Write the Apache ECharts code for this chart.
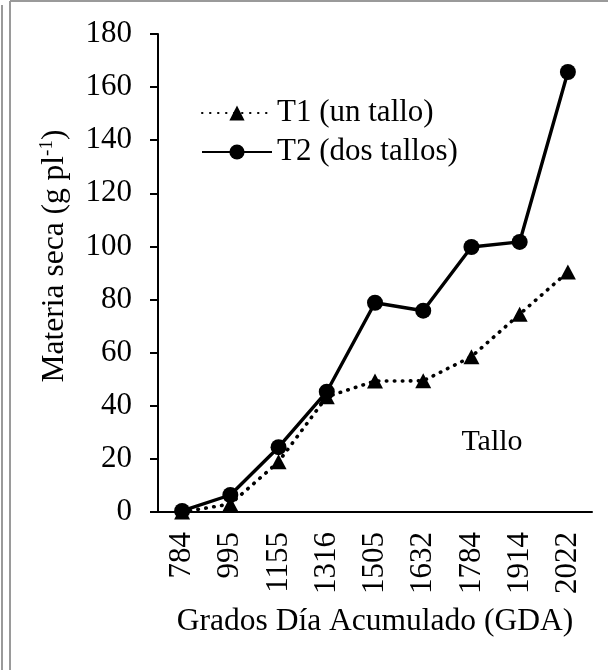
<!DOCTYPE html>
<html>
<head>
<meta charset="utf-8">
<style>
  html, body { margin: 0; padding: 0; background: #fff; }
  #main { width: 608px; height: 670px; }
</style>
</head>
<body>
<div id="main"></div>
<script src="https://cdn.jsdelivr.net/npm/echarts@6/dist/echarts.min.js"></script>
<script>
// grados dia acumulados (eje x)
var categories = ['784', '995', '1155', '1316', '1505', '1632', '1784', '1914', '2022']
// materia seca del tallo, g por planta
var t1Values = [0, 3, 18.9, 43.4, 49.3, 49.4, 58.5, 74.5, 90.4]
var t2Values = [0.4, 6.4, 24.4, 45.3, 78.8, 75.8, 99.8, 101.7, 165.7]
var seriesNames = ['T1 (un tallo)', 'T2 (dos tallos)']

var font = "'Liberation Serif', 'Times New Roman', serif"
var grey = '#9a9a9a'

var myChart = echarts.init(document.getElementById('main'))
myChart.setOption({
  animation: false,
  backgroundColor: '#fff',
  grid: {
    left: 158,
    right: 16,
    top: 34,
    bottom: 158
  },
  legend: {
    orient: 'vertical',
    left: 196,
    top: 91,
    itemWidth: 70,
    itemHeight: 19,
    itemGap: 5,
    textStyle: {
      fontFamily: font,
      fontSize: 31,
      lineHeight: 34,
      color: '#000'
    },
    data: seriesNames
  },
  xAxis: {
    type: 'category',
    data: categories,
    name: 'Grados Día Acumulado (GDA)',
    nameLocation: 'middle',
    nameGap: 94,
    nameTextStyle: {
      fontFamily: font,
      fontSize: 31.5,
      color: '#000'
    },
    axisLine: {
      lineStyle: { color: '#000', width: 2 }
    },
    axisTick: {
      length: 8,
      lineStyle: { color: '#000', width: 2 }
    },
    axisLabel: {
      rotate: 90,
      margin: 20,
      interval: 0,
      fontFamily: font,
      fontSize: 31,
      color: '#000'
    }
  },
  yAxis: {
    type: 'value',
    min: 0,
    max: 180,
    interval: 20,
    splitLine: { show: false },
    axisLine: {
      show: true,
      lineStyle: { color: '#000', width: 2 }
    },
    axisTick: {
      show: true,
      length: 8,
      lineStyle: { color: '#000', width: 2 }
    },
    axisLabel: {
      margin: 26,
      fontFamily: font,
      fontSize: 31,
      color: '#000'
    }
  },
  series: [{
    name: seriesNames[0],
    type: 'line',
    data: t1Values,
    symbol: 'triangle',
    symbolSize: [16, 15],
    color: '#000',
    lineStyle: {
      color: '#000',
      width: 3.6,
      type: [0.5, 7.5],
      cap: 'round'
    },
    itemStyle: { color: '#000' }
  }, {
    name: seriesNames[1],
    type: 'line',
    data: t2Values,
    symbol: 'circle',
    symbolSize: 16,
    color: '#000',
    lineStyle: {
      color: '#000',
      width: 3.4
    },
    itemStyle: { color: '#000' }
  }],
  graphic: [
    // marco gris del recorte
    { type: 'line', shape: { x1: 2, y1: 5, x2: 2, y2: 670 }, style: { stroke: grey, lineWidth: 2 } },
    { type: 'line', shape: { x1: 10, y1: 1, x2: 10, y2: 670 }, style: { stroke: grey, lineWidth: 2 } },
    { type: 'line', shape: { x1: 10, y1: 1, x2: 608, y2: 1 }, style: { stroke: grey, lineWidth: 2 } },
    {
      type: 'text',
      x: 55,
      y: 256,
      rotation: Math.PI / 2,
      style: {
        text: '{m|Materia seca (g pl}{s|-1}{m|)}',
        align: 'center',
        verticalAlign: 'middle',
        fill: '#000',
        rich: {
          m: { fontFamily: font, fontSize: 31.5, lineHeight: 34 },
          s: { fontFamily: font, fontSize: 19, lineHeight: 34, verticalAlign: 'top' }
        }
      }
    },
    {
      type: 'text',
      x: 492,
      y: 442,
      style: {
        text: 'Tallo',
        align: 'center',
        verticalAlign: 'middle',
        fontFamily: font,
        fontSize: 30,
        fill: '#000'
      }
    }
  ]
})
window.addEventListener('resize', function() {
  myChart.resize()
})
</script>
</body>
</html>
